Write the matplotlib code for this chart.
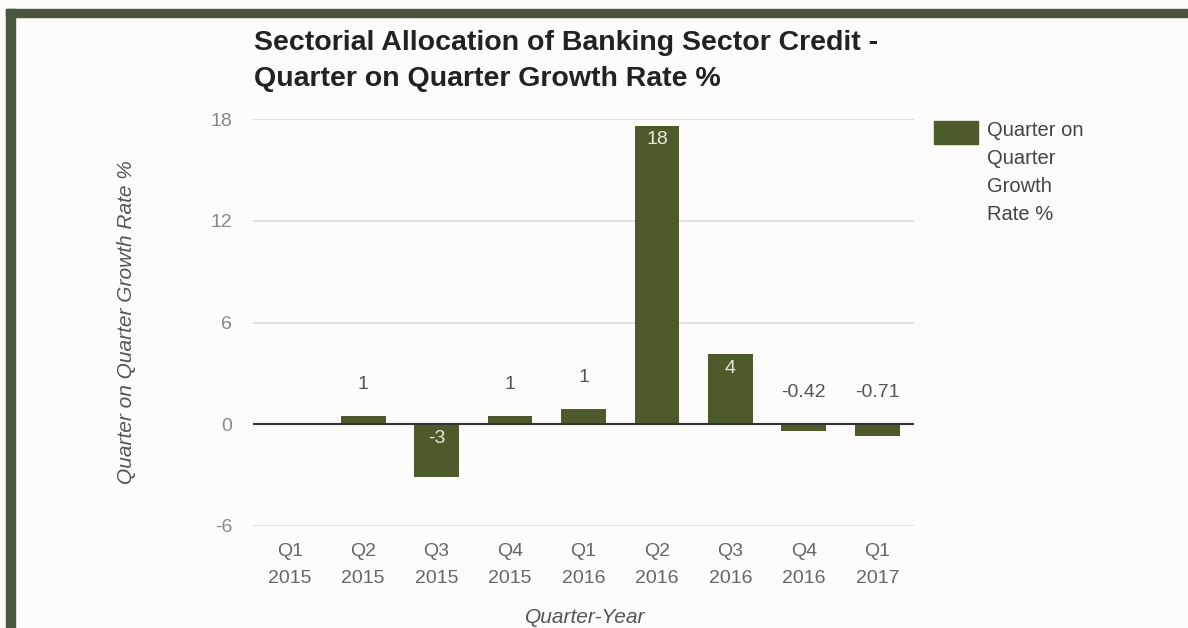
import numpy as np
import matplotlib.pyplot as plt
from matplotlib.patches import Rectangle

plt.rcParams['font.family'] = ['Liberation Sans', 'DejaVu Sans']

# data
quarters = ['Q1', 'Q2', 'Q3', 'Q4', 'Q1', 'Q2', 'Q3', 'Q4', 'Q1']
years = ['2015', '2015', '2015', '2015', '2016', '2016', '2016', '2016', '2017']
growth = [0.0, 0.47, -3.1, 0.47, 0.9, 17.6, 4.13, -0.42, -0.71]
shown = ['', '1', '-3', '1', '1', '18', '4', '-0.42', '-0.71']
yticks = [-6, 0, 6, 12, 18]
series_name = 'Quarter on Quarter Growth Rate %'

bar_color = '#4c5a2c'
frame_color = '#4a5640'
W, H = 1188, 628

fig = plt.figure(figsize=(W / 100, H / 100), dpi=100, facecolor='#fdfcfa')
ax = fig.add_axes([253 / W, 1 - 526 / H, (914 - 253) / W, (526 - 119) / H])
ax.set_facecolor('none')

x = np.arange(len(growth))
ax.bar(x, growth, width=0.61, color=bar_color, zorder=3)

ax.set_xlim(-0.5, len(growth) - 0.5)
ax.set_ylim(-6, 18)
ax.set_yticks(yticks)
ax.set_yticklabels([str(t) for t in yticks], fontsize=14, color='#888888')
ax.set_xticks(x)
ax.set_xticklabels([f'{q}\n{y}' for q, y in zip(quarters, years)],
                   fontsize=14, color='#666666', linespacing=1.8)
ax.tick_params(length=0)
ax.tick_params(axis='y', pad=15)
ax.tick_params(axis='x', pad=12)
for s in ax.spines.values():
    s.set_visible(False)
for t in yticks:
    if t != 0:
        ax.axhline(t, color='#dedede', lw=1.3, zorder=1)
ax.axhline(0, color='#333333', lw=1.5, zorder=4)

# value labels
for xi, v, s in zip(x, growth, shown):
    if s == '':
        continue
    top = max(v, 0)
    if abs(v) >= 2:
        ax.annotate(s, (xi, top), xytext=(0, -10), textcoords='offset points',
                    ha='center', va='center', fontsize=14, color='#e8ecd8', zorder=5)
    else:
        ax.annotate(s, (xi, top), xytext=(0, 23), textcoords='offset points',
                    ha='center', va='center', fontsize=14, color='#555555', zorder=5)

# axis titles
fig.text(127 / W, 1 - 322 / H, series_name, rotation=90, ha='center', va='center',
         fontsize=15, style='italic', color='#555555')
fig.text(585 / W, 1 - 623 / H, 'Quarter-Year', ha='center', va='baseline',
         fontsize=15, style='italic', color='#555555')

# chart title
fig.text(254 / W, 1 - 50 / H, 'Sectorial Allocation of Banking Sector Credit -',
         ha='left', va='baseline', fontsize=20.5, fontweight='bold', color='#222222')
fig.text(254 / W, 1 - 86 / H, 'Quarter on Quarter Growth Rate %',
         ha='left', va='baseline', fontsize=20.5, fontweight='bold', color='#222222')

# legend
fig.patches.append(Rectangle((934 / W, 1 - 144 / H), 44 / W, 23 / H,
                             transform=fig.transFigure, color=bar_color))
for i, line in enumerate(['Quarter on', 'Quarter', 'Growth', 'Rate %']):
    fig.text(987 / W, 1 - (130 + 28 * i) / H, line, ha='left', va='center',
             fontsize=14.5, color='#444444')

# dark frame along top and left edges
fig.patches.append(Rectangle((6 / W, 0), 9 / W, 1 - 9 / H,
                             transform=fig.transFigure, color=frame_color))
fig.patches.append(Rectangle((6 / W, 1 - 17 / H), 1 - 6 / W, 8 / H,
                             transform=fig.transFigure, color=frame_color))

fig.savefig('out.png', dpi=100, facecolor=fig.get_facecolor())
